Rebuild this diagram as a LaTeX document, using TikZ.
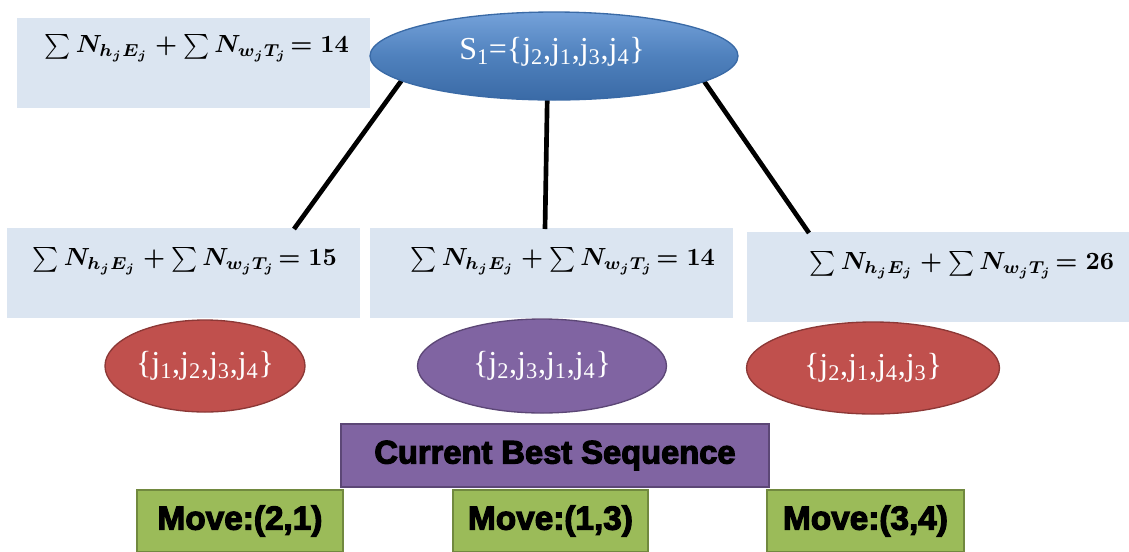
\documentclass[tikz,border=0pt]{standalone}
\usepackage{fontspec}
\usepackage{graphicx}
\usetikzlibrary{shapes.geometric}
\newfontfamily\serifw{Liberation Serif}
\newfontfamily\heavy[FakeBold=3.5]{Liberation Sans}
\definecolor{boxblue}{HTML}{DBE5F1}
\definecolor{ellblue}{HTML}{4F81BD}
\definecolor{ellbluetop}{HTML}{75A2DA}
\definecolor{ellblueb}{HTML}{3A6AA6}
\definecolor{ellred}{HTML}{C0504D}
\definecolor{ellredb}{HTML}{8C3836}
\definecolor{ellpurple}{HTML}{8064A2}
\definecolor{ellpurpleb}{HTML}{5C4776}
\definecolor{mvgreen}{HTML}{9BBB59}
\definecolor{mvgreenb}{HTML}{71893F}
\newcommand{\costexpr}[1]{\resizebox{228pt}{!}{\boldmath$\sum N_{h_jE_j}+\sum N_{w_jT_j}\!=\mathbf{#1}$}}
\newcommand{\jj}[1]{j\textsubscript{#1}}
\begin{document}
\begin{tikzpicture}[x=0.75pt,y=-0.75pt,
  costbox/.style={fill=boxblue, draw=none, inner sep=0pt},
  costtext/.style={inner sep=0pt, text=black},
  seqell/.style={ellipse, minimum width=#1, line width=1pt, inner sep=0pt, text=white, font=\serifw\fontsize{24}{26}\selectfont},
  edge/.style={line width=3.5pt, black},
  movebox/.style={draw=mvgreenb, fill=mvgreen, line width=1.5pt, font=\heavy\bfseries\fontsize{25}{28}\selectfont, inner sep=0pt},
  bestbox/.style={draw=ellpurpleb, fill=ellpurple, line width=1.5pt, font=\heavy\bfseries\fontsize{24.5}{28}\selectfont, inner sep=0pt}
]
\useasboundingbox (0,0) rectangle (1129,551);
% cost boxes
\node[costbox, minimum width=353*0.75pt, minimum height=90*0.75pt] (c0) at (193.5,63) {};
\node[costbox, minimum width=353*0.75pt, minimum height=90*0.75pt] (c1) at (183.5,273) {};
\node[costbox, minimum width=363*0.75pt, minimum height=90*0.75pt] (c2) at (551.5,273) {};
\node[costbox, minimum width=382*0.75pt, minimum height=90*0.75pt] (c3) at (938,277) {};
\node[costtext] (t0) at (197,48) {\costexpr{14}};
\node[costtext] (t1) at (185,261) {\costexpr{15}};
\node[costtext] (t2) at (563,261) {\costexpr{14}};
\node[costtext] (t3) at (962,265) {\costexpr{26}};
% connectors (end points on the box tops)
\coordinate (e1) at (294,229);
\coordinate (e2) at (545,229);
\coordinate (e3) at (809,233);
\coordinate (s1) at (420,55);
\coordinate (s2) at (548,55);
\coordinate (s3) at (686,55);
\draw[edge] (s1) -- (e1);
\draw[edge] (s2) -- (e2);
\draw[edge] (s3) -- (e3);
% top ellipse
\node[seqell=368*0.75pt, minimum height=88*0.75pt, draw=ellblueb, top color=ellbluetop, bottom color=ellblueb, middle color=ellblue] (top) at (554,56) {};
\node[text=white, font=\serifw\fontsize{24}{26}\selectfont, inner sep=0pt] (toptext) at (552,52) {S\textsubscript{1}=\{\jj{2},\jj{1},\jj{3},\jj{4}\}};
% sequence ellipses
\node[seqell=200*0.75pt, minimum height=92*0.75pt, draw=ellredb, fill=ellred] (q1) at (205,366) {\{\jj{1},\jj{2},\jj{3},\jj{4}\}};
\node[seqell=249*0.75pt, minimum height=94*0.75pt, draw=ellpurpleb, fill=ellpurple] (q2) at (542,366) {\{\jj{2},\jj{3},\jj{1},\jj{4}\}};
\node[seqell=253*0.75pt, minimum height=92*0.75pt, draw=ellredb, fill=ellred] (q3) at (873,368) {\{\jj{2},\jj{1},\jj{4},\jj{3}\}};
% best and moves
\node[bestbox, minimum width=428*0.75pt, minimum height=63*0.75pt] (best) at (555,455.5) {Current Best Sequence};
\node[movebox, minimum width=206*0.75pt, minimum height=62*0.75pt] (m1) at (240,521) {Move:(2,1)};
\node[movebox, minimum width=195*0.75pt, minimum height=62*0.75pt] (m2) at (550.5,521) {Move:(1,3)};
\node[movebox, minimum width=197*0.75pt, minimum height=62*0.75pt] (m3) at (865.5,521) {Move:(3,4)};
\end{tikzpicture}
\end{document}
